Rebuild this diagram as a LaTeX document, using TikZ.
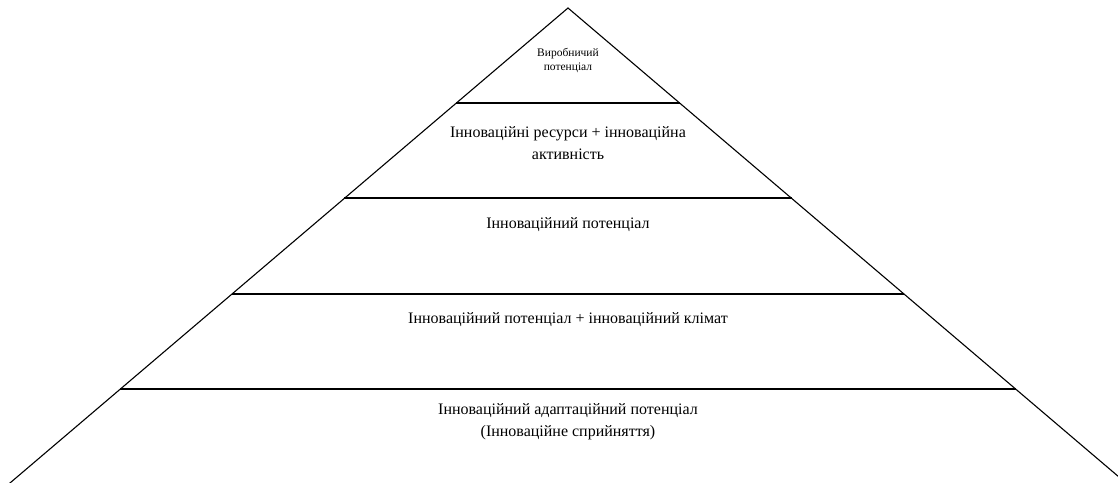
\documentclass[tikz,border=0pt]{standalone}
\usepackage{fontspec}
\setmainfont{Liberation Serif}
\begin{document}
\begin{tikzpicture}[x=1pt,y=-1pt,
  edge/.style={draw=black,line width=1.1pt},
  shelf/.style={draw=black,line width=1.4pt},
  lbl/.style={align=center,font=\fontsize{16}{21.5}\selectfont,inner sep=0pt},
  small/.style={align=center,font=\fontsize{11.5}{14}\selectfont,inner sep=0pt}]
\useasboundingbox (0,0) rectangle (1118,482);
\clip (0,0) rectangle (1118,482);
\coordinate (apex) at (568,8);
\coordinate (bl) at (-10,500);
\coordinate (br) at (1146,500);
\draw[edge] (bl) -- (apex) -- (br);
\draw[shelf] (456,103) -- (680,103);
\draw[shelf] (344,198) -- (792,198);
\draw[shelf] (232,294) -- (904,294);
\draw[shelf] (120,389) -- (1016,389);
\node[small] (t1) at (568,60) {Виробничий\\потенціал};
\node[lbl] (t2) at (568,143) {Інноваційні ресурси + інноваційна\\активність};
\node[lbl] (t3) at (568,225) {Інноваційний потенціал};
\node[lbl] (t4) at (568,320) {Інноваційний потенціал + інноваційний клімат};
\node[lbl] (t5) at (568,421.5) {Інноваційний адаптаційний потенціал\\(Інноваційне сприйняття)};
\end{tikzpicture}
\end{document}
